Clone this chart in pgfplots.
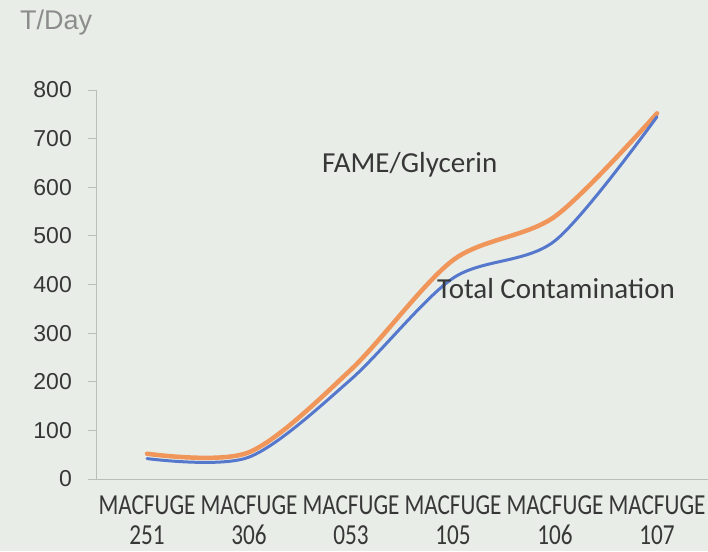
\documentclass[border=0pt]{standalone}
\usepackage{fontspec}
\usepackage{pgfplots}
\pgfplotsset{compat=1.18}
\setmainfont{Liberation Sans}
\newfontfamily\calf{Carlito}
\newfontfamily\calx[FakeStretch=0.8]{Carlito}
\definecolor{bg}{RGB}{232,237,232}
\definecolor{axc}{RGB}{185,190,185}
\definecolor{oc}{RGB}{240,150,90}
\definecolor{bc}{RGB}{85,120,205}
\definecolor{txt}{RGB}{55,55,55}
\definecolor{ttl}{RGB}{140,140,140}
\begin{document}
\begin{tikzpicture}[x=1pt,y=1pt]
\fill[bg] (0,0) rectangle (708,551);
\begin{axis}[
  at={(96pt,72pt)}, anchor=south west,
  scale only axis, width=612pt, height=389pt,
  xmin=-0.5, xmax=5.5, ymin=0, ymax=800,
  axis x line*=bottom, axis y line*=left,
  axis line style={axc, line width=1pt},
  ytick={0,100,...,800},
  tick style={axc, line width=1pt},
  major tick length=8pt, tick align=outside,
  /pgf/number format/assume math mode=true,
  yticklabel style={font=\fontsize{23}{23}\selectfont, text=txt, anchor=east, inner sep=0pt, xshift=-16pt},
  xtick={0,1,2,3,4,5},
  major x tick style={draw=none},
  xticklabels={{MACFUGE\\251},{MACFUGE\\306},{MACFUGE\\053},{MACFUGE\\105},{MACFUGE\\106},{MACFUGE\\107}},
  xticklabel style={align=center, font=\calx\fontsize{29}{30}\selectfont, text=txt, anchor=north, inner sep=0pt, yshift=-8pt},
]
\addplot[oc, line width=4.5pt, smooth, line cap=round] coordinates {(0,52)(1,55)(2,225)(3,450)(4,540)(5,752)};
\addplot[bc, line width=3pt, smooth, line cap=round] coordinates {(0,42)(1,45)(2,205)(3,413)(4,490)(5,745)};
\end{axis}
\node[anchor=base west, inner sep=0pt, font=\calf\fontsize{29}{29}\selectfont, text=txt] at (322,378) {FAME/Glycerin};
\node[anchor=base west, inner sep=0pt, font=\calf\fontsize{29}{29}\selectfont, text=txt] at (437,252) {Total Contamination};
\node[anchor=base west, inner sep=0pt, font=\fontsize{27}{27}\selectfont, text=ttl] at (20,521) {T/Day};
\pgfresetboundingbox
\useasboundingbox (0,0) rectangle (708,551);
\end{tikzpicture}
\end{document}
